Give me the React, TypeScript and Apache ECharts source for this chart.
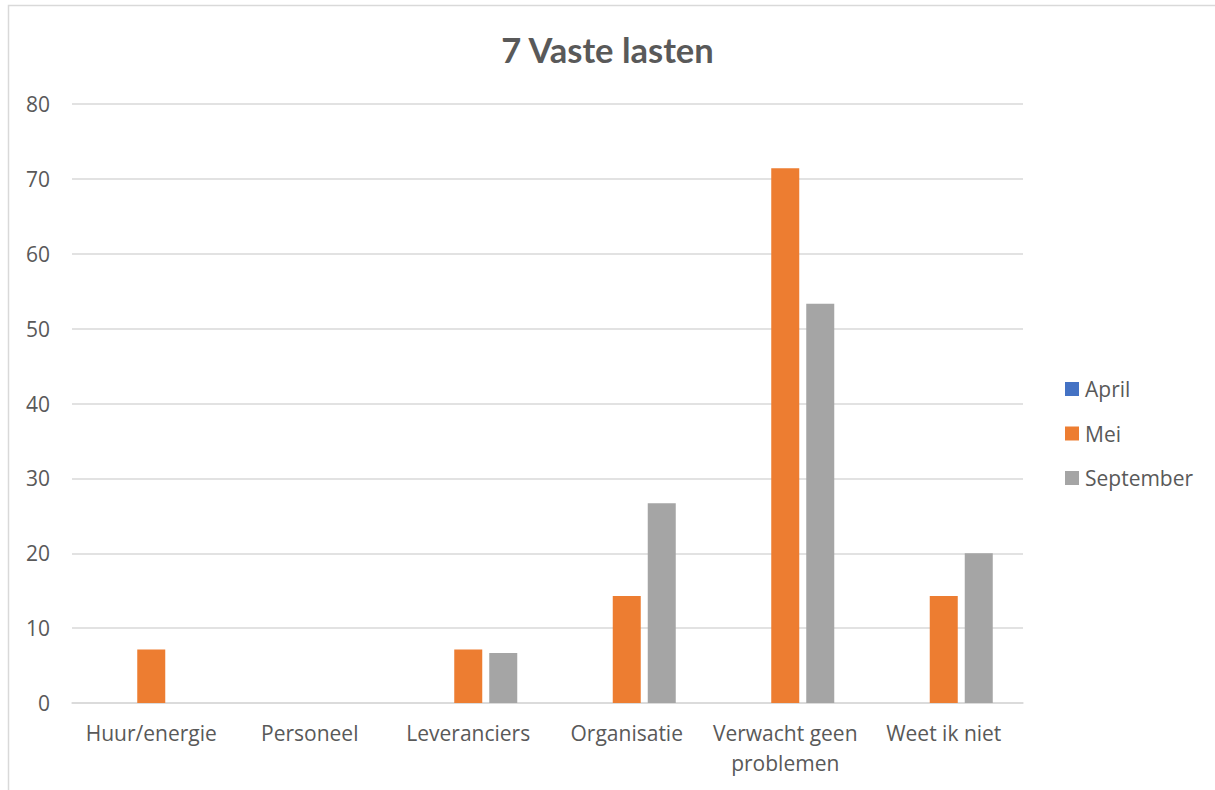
import React, { useEffect, useRef } from "react";
import * as echarts from "echarts";

const categories = ["Huur/energie", "Personeel", "Leveranciers", "Organisatie", "Verwacht geen\nproblemen", "Weet ik niet"];
const seriesNames = ["April", "Mei", "September"];
const aprilValues = [0, 0, 0, 0, 0, 0];
const meiValues = [7.14, 0, 7.14, 14.29, 71.43, 14.29];
const septemberValues = [0, 0, 6.67, 26.67, 53.33, 20];
const colors = ["#4472C4", "#ED7D31", "#A5A5A5"];
const titleText = "7 Vaste lasten";

const FONT = "'Open Sans', Lato, sans-serif";
const FS = 21;

export default function App() {
  const ref = useRef<HTMLDivElement>(null);
  useEffect(() => {
    if (!ref.current) return;
    const chart = echarts.init(ref.current, null, { renderer: "svg" });
    const values = [aprilValues, meiValues, septemberValues];
    chart.setOption({
      animation: false,
      backgroundColor: "#ffffff",
      title: {
        text: titleText,
        left: "center",
        top: 27,
        textStyle: { fontFamily: "Lato, sans-serif", fontSize: 34.5, fontWeight: "bold", color: "#595959" },
      },
      graphic: [
        {
          type: "rect",
          shape: { x: 8.5, y: 5.5, width: 1300, height: 900 },
          style: { fill: "none", stroke: "#d9d9d9", lineWidth: 1.5 },
          silent: true,
        },
      ],
      legend: {
        orient: "vertical",
        left: 1060,
        top: 389 - 5 - FS / 2,
        itemWidth: 14,
        itemHeight: 14,
        itemGap: 44.5 - FS,
        icon: "rect",
        data: seriesNames,
        textStyle: { fontFamily: FONT, fontSize: FS, color: "#595959", padding: [0, 0, 0, 1] },
      },
      grid: { left: 72, right: 192, top: 104, bottom: 87, containLabel: false },
      xAxis: {
        type: "category",
        data: categories,
        axisLine: { lineStyle: { color: "#d9d9d9", width: 1.5 } },
        axisTick: { show: false },
        axisLabel: {
          fontFamily: FONT,
          fontSize: FS,
          color: "#595959",
          margin: 15,
          lineHeight: 30,
          interval: 0,
        },
      },
      yAxis: {
        type: "value",
        min: 0,
        max: 80,
        interval: 10,
        axisLine: { show: false },
        axisTick: { show: false },
        splitLine: { lineStyle: { color: "#d9d9d9", width: 1.5 } },
        axisLabel: { fontFamily: FONT, fontSize: FS, color: "#595959", margin: 22 },
      },
      series: seriesNames.map((name, i) => ({
        name,
        type: "bar",
        data: values[i],
        barWidth: 28,
        barGap: "25%",
        itemStyle: { color: colors[i] },
      })),
    });
    return () => chart.dispose();
  }, []);
  return (
    <div
      ref={ref}
      style={{ position: "absolute", left: 0, top: 0, width: 1215, height: 790 }}
    />
  );
}
